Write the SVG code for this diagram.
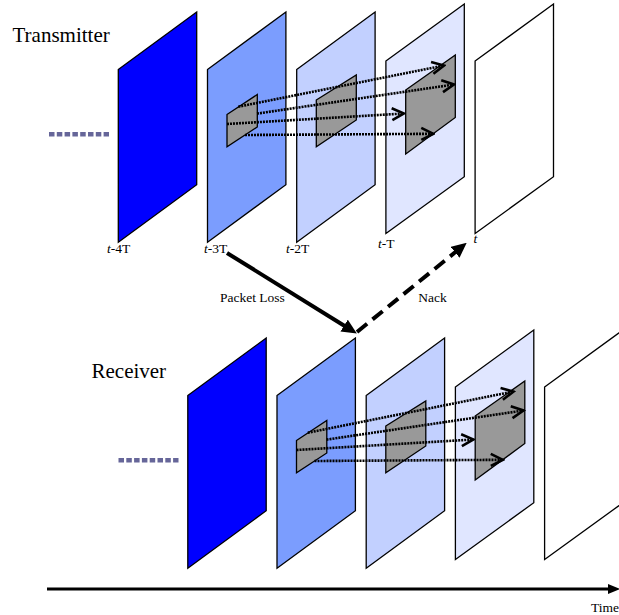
<svg xmlns="http://www.w3.org/2000/svg" width="619" height="615" viewBox="0 0 619 615">
<style>
text{font-family:"Liberation Serif","Times New Roman",serif;fill:#000}
.big{font-size:21px}
.lbl{font-size:13.5px}
.fr{stroke:#000;stroke-width:1.3;stroke-linejoin:miter}
.f0{fill:#0000ff}.f1{fill:#7b9dfe}.f2{fill:#c2d0ff}.f3{fill:#e0e6ff}.f4{fill:#fff}
.patch{fill:#999;stroke:#000;stroke-width:1.3}
.dot{stroke:#000;stroke-width:2.6;stroke-dasharray:2 1;fill:none;marker-end:url(#open)}
.lead{stroke:#666699;stroke-width:4.5;stroke-dasharray:5.5 2.3;fill:none}
</style>
<defs>
<marker id="open" markerUnits="userSpaceOnUse" viewBox="0 0 16 16" refX="14" refY="8" markerWidth="16" markerHeight="16" orient="auto">
<path d="M2,2 L14,8 L2,14" fill="none" stroke="#000" stroke-width="2.6"/>
</marker>
<marker id="solid" markerUnits="userSpaceOnUse" viewBox="0 0 15 14" refX="4" refY="7" markerWidth="15" markerHeight="14" orient="auto">
<path d="M0,0 L15,7 L0,14 z" fill="#000"/>
</marker>
<g id="stack">
<g id="lead"><line class="lead" x1="49" y1="134.3" x2="109" y2="134.3"/></g>
<g id="frame0"><polygon class="fr f0" points="118.3,69.5 196.7,12 196.7,184.7 118.3,242.3"/></g>
<g id="frame1"><polygon class="fr f1" points="207.5,69.5 285.9,12 285.9,184.7 207.5,242.3"/>
<polygon class="patch" points="227,114.5 257.3,94.5 257.3,127 227,146.7"/></g>
<g id="frame2"><polygon class="fr f2" points="296.7,69.5 375.1,12 375.1,184.7 296.7,242.3"/>
<polygon class="patch" points="316.3,100 356.3,75 356.3,120 316.3,146.7"/></g>
<g id="frame3"><polygon class="fr f3" points="385.9,61 464.3,4 464.3,176.7 385.9,233.5"/>
<polygon class="patch" points="405.7,90 455.3,55 455.3,117.5 405.7,154"/></g>
<g id="frame4"><polygon class="fr f4" points="475.1,61 553.5,4 553.5,176.7 475.1,233.5"/></g>
<g id="motion">
<line class="dot" x1="238.3" y1="106.7" x2="444" y2="65.5"/>
<line class="dot" x1="257" y1="113.6" x2="454" y2="84.5"/>
<line class="dot" x1="227" y1="124" x2="404" y2="113.5"/>
<line class="dot" x1="245" y1="135" x2="433.3" y2="133.8"/>
</g>
</g>
</defs>
<g id="transmitter">
<text class="big" x="12.5" y="41.7">Transmitter</text>
<use href="#stack"/>
</g>
<g id="labels">
<text class="lbl" x="107" y="253"><tspan font-style="italic">t</tspan>-4T</text>
<text class="lbl" x="204" y="253"><tspan font-style="italic">t</tspan>-3T</text>
<text class="lbl" x="286" y="253"><tspan font-style="italic">t</tspan>-2T</text>
<text class="lbl" x="378" y="247.5"><tspan font-style="italic">t</tspan>-T</text>
<text class="lbl" x="473.5" y="242.5" font-style="italic">t</text>
<text class="lbl" x="220" y="301.7">Packet Loss</text>
<text class="lbl" x="418.3" y="301.7">Nack</text>
</g>
<g id="receiver">
<text class="big" x="91.5" y="377.7">Receiver</text>
<use href="#stack" transform="translate(69.5,326)"/>
</g>
<g id="connectors">
<line x1="227" y1="253" x2="347.5" y2="327.7" stroke="#000" stroke-width="4" marker-end="url(#solid)"/>
<line x1="357" y1="332" x2="458.2" y2="249.8" stroke="#000" stroke-width="4" stroke-dasharray="13 7" marker-end="url(#solid)"/>
<line x1="47" y1="589" x2="611" y2="589" stroke="#000" stroke-width="3"/>
<polygon points="608,584 620,589 608,594" fill="#000"/>
</g>
<text class="lbl" x="591" y="612.3" font-size="13px">Time</text>
</svg>
